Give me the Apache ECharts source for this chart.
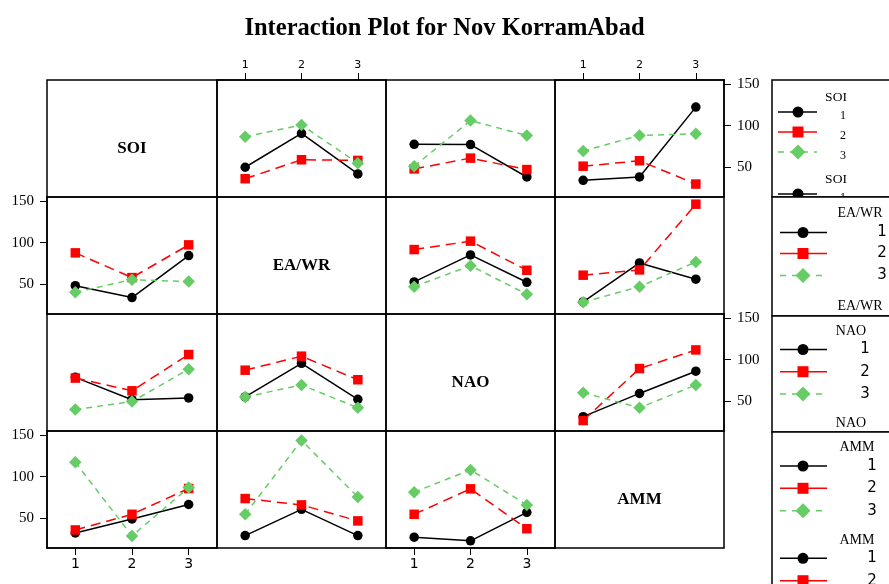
<!DOCTYPE html>
<html><head><meta charset="utf-8">
<script src="https://cdn.jsdelivr.net/npm/echarts@6/dist/echarts.min.js"></script>
<style>html,body{margin:0;padding:0;background:#fff}#c{width:889px;height:584px}</style>
</head><body><div id="c"></div><script>
// ---- data ----
const titleText = 'Interaction Plot for Nov KorramAbad';
const factors = ['SOI', 'EA/WR', 'NAO', 'AMM'];
const levels = ['1', '2', '3'];
const yTickValues = [50, 100, 150];
// each array: [level1 line, level2 line, level3 line] of the row factor, across x = levels of column factor
const SOI_by_EAWR = [[49.6, 90.6, 41.5], [35.7, 58.7, 57.9], [86.5, 100.9, 54.6]];
const SOI_by_NAO  = [[77.5, 77.1, 37.8], [47.6, 60.7, 46.8], [50.9, 106.2, 88.2]];
const SOI_by_AMM  = [[33.7, 37.8, 122.6], [50.9, 57.5, 29.2], [69.3, 88.2, 90.2]];
const EAWR_by_SOI = [[47.9, 33.4, 84.4], [87.7, 57.7, 97.4], [39.9, 55.2, 52.8]];
const EAWR_by_NAO = [[52.4, 85.2, 52.0], [91.7, 101.9, 66.6], [46.7, 72.2, 37.5]];
const EAWR_by_AMM = [[28.1, 75.5, 55.7], [60.6, 67.0, 146.8], [27.8, 46.7, 76.7]];
const NAO_by_SOI  = [[78.6, 51.5, 53.6], [77.7, 62.3, 106.3], [39.6, 49.2, 88.5]];
const NAO_by_EAWR = [[54.8, 95.6, 51.9], [87.3, 104.3, 75.7], [54.8, 69.4, 41.7]];
const NAO_by_AMM  = [[30.9, 59.1, 86.1], [26.2, 89.3, 111.9], [59.9, 41.7, 69.4]];
const AMM_by_SOI  = [[31.8, 48.8, 66.3], [35.4, 54.4, 85.7], [117.5, 28.2, 86.9]];
const AMM_by_EAWR = [[28.6, 60.4, 28.6], [73.5, 65.8, 46.4], [54.4, 144.0, 75.4]];
const AMM_by_NAO  = [[26.6, 22.2, 56.8], [54.4, 85.3, 36.9], [81.3, 108.3, 65.8]];

const panelData = [
  [null, SOI_by_EAWR, SOI_by_NAO, SOI_by_AMM],
  [EAWR_by_SOI, null, EAWR_by_NAO, EAWR_by_AMM],
  [NAO_by_SOI, NAO_by_EAWR, null, NAO_by_AMM],
  [AMM_by_SOI, AMM_by_EAWR, AMM_by_NAO, null]
];

// ---- layout / style ----
const colX = [47, 217, 386, 555];
const colW = [170, 169, 169, 169];
const rowY = [80, 197, 314, 431];
const rowH = 117;
const yMin = 13.5, yMax = 155.5;
const serif = '"Liberation Serif", "Times New Roman", serif';
const sans = '"DejaVu Sans", Verdana, sans-serif';
const lvlStyle = [
  { color: '#000000', symbol: 'circle', size: 9.5, dash: 'solid', legendDash: null },
  { color: '#ff0000', symbol: 'rect', size: 9.5, dash: [10, 6], legendDash: null },
  { color: '#66cc66', symbol: 'diamond', size: 12.5, dash: [6, 5], legendDash: [6, 6] }
];

const grids = [], xAxes = [], yAxes = [], series = [];
for (let r = 0; r < 4; r++) {
  for (let c = 0; c < 4; c++) {
    const gi = r * 4 + c;
    grids.push({ left: colX[c], top: rowY[r], width: colW[c], height: rowH,
      show: true, borderColor: '#000', borderWidth: 1.5, backgroundColor: 'transparent', containLabel: false });
    const showTopX = (r === 0 && (c === 1 || c === 3));
    const showBotX = (r === 3 && (c === 0 || c === 2));
    const showX = showTopX || showBotX;
    xAxes.push({ type: 'category', gridIndex: gi, data: levels, boundaryGap: true,
      position: showTopX ? 'top' : 'bottom',
      axisLine: { show: showX, lineStyle: { color: '#000', width: 1.5 } },
      axisTick: { show: showX, alignWithLabel: true, length: 7, lineStyle: { color: '#000', width: 1 } },
      axisLabel: { show: showX, color: '#000', fontFamily: sans, fontSize: showTopX ? 11 : 14, margin: showTopX ? 9 : 9 },
      splitLine: { show: false } });
    const showLeftY = (c === 0 && (r === 1 || r === 3));
    const showRightY = (c === 3 && (r === 0 || r === 2));
    const showY = showLeftY || showRightY;
    yAxes.push({ type: 'value', gridIndex: gi, min: yMin, max: yMax,
      position: showRightY ? 'right' : 'left',
      axisLine: { show: showY, lineStyle: { color: '#000', width: 1.5 } },
      axisTick: { show: showY, length: 7, customValues: yTickValues, lineStyle: { color: '#000', width: 1 } },
      axisLabel: { show: showY, customValues: yTickValues, color: '#000', fontFamily: serif, fontSize: 15, margin: 13 },
      splitLine: { show: false } });
    const d = panelData[r][c];
    if (d) {
      for (let k = 0; k < 3; k++) {
        const st = lvlStyle[k];
        series.push({ type: 'line', xAxisIndex: gi, yAxisIndex: gi, data: d[k],
          symbol: st.symbol, symbolSize: st.size, showSymbol: true, animation: false,
          itemStyle: { color: st.color, borderWidth: 0 },
          lineStyle: { color: st.color, width: 1.5, type: st.dash },
          emphasis: { disabled: true }, z: 2 + k });
      }
    }
  }
}

// ---- graphics: diagonal labels and legend boxes ----
const graphics = [];
for (let i = 0; i < 4; i++) {
  graphics.push({ type: 'text', z: 5,
    style: { text: factors[i], x: colX[i] + colW[i] / 2, y: rowY[i] + rowH / 2 + 10,
      font: 'bold 17px ' + serif, fill: '#000', textAlign: 'center', textVerticalAlign: 'middle', align: 'center', verticalAlign: 'middle' } });
}
function txt(t, x, y, font, align, z) {
  return { type: 'text', z: z, style: { text: t, x: x, y: y, font: font, fill: '#000',
    textAlign: align, textVerticalAlign: 'middle', align: align, verticalAlign: 'middle' } };
}
function item(k, lx1, lx2, mx, my, z) {
  const st = lvlStyle[k], out = [];
  out.push({ type: 'line', z: z, shape: { x1: lx1, y1: my, x2: lx2, y2: my },
    style: { stroke: st.color, lineWidth: 1.5, lineDash: st.legendDash } });
  if (k === 0) out.push({ type: 'circle', z: z, shape: { cx: mx, cy: my, r: 5.5 }, style: { fill: st.color } });
  else if (k === 1) out.push({ type: 'rect', z: z, shape: { x: mx - 5.5, y: my - 5.5, width: 11, height: 11 }, style: { fill: st.color } });
  else out.push({ type: 'polygon', z: z, shape: { points: [[mx, my - 7.5], [mx + 7.5, my], [mx, my + 7.5], [mx - 7.5, my]] }, style: { fill: st.color } });
  return out;
}
const legends = [
  { name: 'SOI', top: 80, bottom: 197, titleX: 836, titleAlign: 'center', titleY: [97, 179.5], titleFont: '13.5px ' + serif,
    lx1: 778, lx2: 817, mx: 798, itemY: [112, 132, 152, 194], labX: 843, labDy: 4, labFont: '12px ' + serif },
  { name: 'EA/WR', top: 197, bottom: 316, titleX: 860, titleAlign: 'center', titleY: [213.5, 306.5], titleFont: '14px ' + serif,
    lx1: 780, lx2: 827, mx: 803, itemY: [232.5, 253.5, 275.5], labX: 882, labDy: 0, labFont: '15px ' + sans },
  { name: 'NAO', top: 316, bottom: 432, titleX: 851, titleAlign: 'center', titleY: [331, 423.5], titleFont: '14px ' + serif,
    lx1: 780, lx2: 827, mx: 803, itemY: [349.5, 371.7, 394], labX: 865, labDy: 0, labFont: '15px ' + sans },
  { name: 'AMM', top: 432, bottom: 700, titleX: 857, titleAlign: 'center', titleY: [447.7, 540], titleFont: '14px ' + serif,
    lx1: 780, lx2: 827, mx: 803, itemY: [466, 488.3, 510.7, 558.3, 580.7, 603], labX: 872, labDy: 0, labFont: '15px ' + sans }
];
legends.forEach(function (L, i) {
  const zr = 10 + 2 * i, zc = 11 + 2 * i;
  graphics.push({ type: 'rect', z: zr, shape: { x: 772, y: L.top, width: 140, height: L.bottom - L.top },
    style: { fill: '#fff', stroke: '#000', lineWidth: 1.5 } });
  L.titleY.forEach(function (ty) { graphics.push(txt(L.name, L.titleX, ty, L.titleFont, L.titleAlign, zc)); });
  L.itemY.forEach(function (iy, j) {
    const k = j % 3;
    item(k, L.lx1, L.lx2, L.mx, iy, zc).forEach(function (g) { graphics.push(g); });
    graphics.push(txt(levels[k], L.labX, iy + L.labDy, L.labFont, 'center', zc));
  });
});

const chart = echarts.init(document.getElementById('c'), null, { renderer: 'canvas' });
chart.setOption({
  animation: false,
  backgroundColor: '#fff',
  title: { text: titleText, left: 'center', top: 11,
    textStyle: { fontFamily: serif, fontSize: 24.5, fontWeight: 'bold', color: '#000' } },
  grid: grids, xAxis: xAxes, yAxis: yAxes, series: series,
  graphic: { elements: graphics }
});
</script></body></html>
